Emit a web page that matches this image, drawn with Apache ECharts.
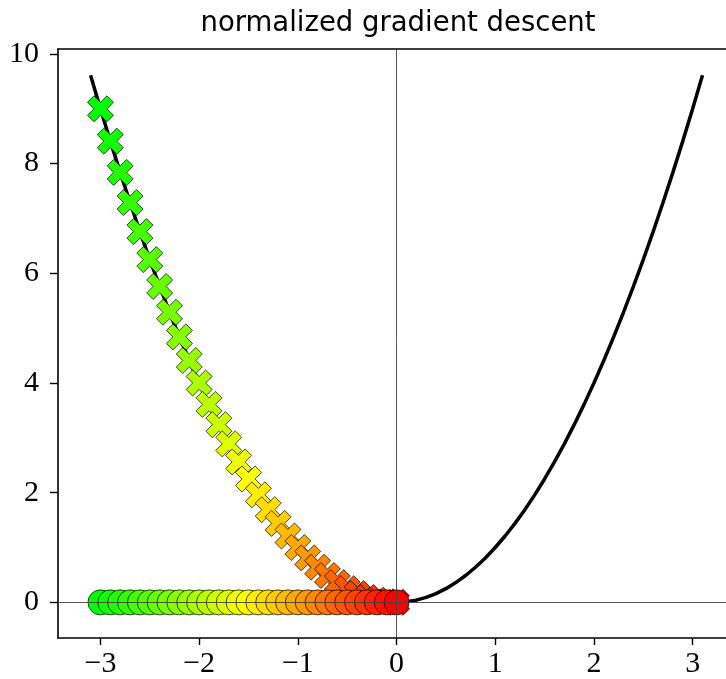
<!DOCTYPE html>
<html>
<head>
<meta charset="utf-8">
<script src="https://cdn.jsdelivr.net/npm/echarts@6/dist/echarts.min.js"></script>
<style>html,body{margin:0;padding:0;background:#fff;}#c{width:726px;height:679px;}</style>
</head>
<body>
<div id="c"></div>
<script>
// Curve y = x^2 sampled (values read/typed)
var curveX = [-3.1,-3.0,-2.9,-2.8,-2.7,-2.6,-2.5,-2.4,-2.3,-2.2,-2.1,-2.0,-1.9,-1.8,-1.7,-1.6,-1.5,-1.4,-1.3,-1.2,-1.1,-1.0,-0.9,-0.8,-0.7,-0.6,-0.5,-0.4,-0.3,-0.2,-0.1,0.0,0.1,0.2,0.3,0.4,0.5,0.6,0.7,0.8,0.9,1.0,1.1,1.2,1.3,1.4,1.5,1.6,1.7,1.8,1.9,2.0,2.1,2.2,2.3,2.4,2.5,2.6,2.7,2.8,2.9,3.0,3.1];
var curveY = [9.61,9.0,8.41,7.84,7.29,6.76,6.25,5.76,5.29,4.84,4.41,4.0,3.61,3.24,2.89,2.56,2.25,1.96,1.69,1.44,1.21,1.0,0.81,0.64,0.49,0.36,0.25,0.16,0.09,0.04,0.01,0.0,0.01,0.04,0.09,0.16,0.25,0.36,0.49,0.64,0.81,1.0,1.21,1.44,1.69,1.96,2.25,2.56,2.89,3.24,3.61,4.0,4.41,4.84,5.29,5.76,6.25,6.76,7.29,7.84,8.41,9.0,9.61];
// Descent steps
var stepX = [-3.0,-2.9,-2.8,-2.7,-2.6,-2.5,-2.4,-2.3,-2.2,-2.1,-2.0,-1.9,-1.8,-1.7,-1.6,-1.5,-1.4,-1.3,-1.2,-1.1,-1.0,-0.9,-0.8,-0.7,-0.6,-0.5,-0.4,-0.3,-0.2,-0.1,0.0];
var stepY = [9.0,8.41,7.84,7.29,6.76,6.25,5.76,5.29,4.84,4.41,4.0,3.61,3.24,2.89,2.56,2.25,1.96,1.69,1.44,1.21,1.0,0.81,0.64,0.49,0.36,0.25,0.16,0.09,0.04,0.01,0.0];
var baseY = [0,0,0,0,0,0,0,0,0,0,0,0,0,0,0,0,0,0,0,0,0,0,0,0,0,0,0,0,0,0,0];
var xTicks = [-3,-2,-1,0,1,2,3];
var yTicks = [0,2,4,6,8,10];

function zip(a,b){return a.map(function(v,i){return [v,b[i]];});}
var xPath = 'path://M26.4,97.1 L50,73.6 L73.6,97.1 L97.1,73.6 L73.6,50 L97.1,26.4 L73.6,2.9 L50,26.4 L26.4,2.9 L2.9,26.4 L26.4,50 L2.9,73.6 Z';
function fmt(v){ return (v<0?'\u2212':'') + Math.abs(v); }
var serif = 'Liberation Serif';

var chart = echarts.init(document.getElementById('c'), null, {renderer:'canvas'});
chart.setOption({
  animation:false,
  backgroundColor:'#fff',
  title:{text:'normalized gradient descent', left:393, top:5, textAlign:'center',
    textStyle:{fontFamily:'DejaVu Sans', fontWeight:'normal', fontSize:27.5, color:'#000'}},
  grid:{left:58, top:49, right:0, bottom:40},
  visualMap:{show:false, type:'continuous', seriesIndex:[1,2], dimension:0, min:-3, max:0,
    inRange:{color:['#00ff00','#ffff00','#ff0000']}},
  xAxis:[{type:'value', min:-3.43, max:3.338,
    axisLine:{show:true, onZero:false, lineStyle:{color:'#000', width:1.6}},
    axisTick:{show:true, length:7, lineStyle:{color:'#000', width:1.4},
      customValues: xTicks},
    axisLabel:{margin:11, fontFamily:serif, fontSize:30, color:'#000', formatter:fmt, customValues: xTicks},
    splitLine:{show:false}},
    {type:'value', position:'top', min:-3.43, max:3.338,
    axisLine:{show:true, onZero:false, lineStyle:{color:'#000', width:1.6}},
    axisTick:{show:false}, axisLabel:{show:false}, splitLine:{show:false}}],
  yAxis:{type:'value', min:-0.65, max:10.09,
    axisLine:{show:true, onZero:false, lineStyle:{color:'#000', width:1.6}},
    axisTick:{show:true, length:8, lineStyle:{color:'#000', width:1.4}, customValues: yTicks},
    axisLabel:{margin:19, fontFamily:serif, fontSize:30, color:'#000', formatter:fmt, customValues: yTicks},
    splitLine:{show:false}},
  series:[
    {type:'line', data: zip(curveX, curveY), showSymbol:false, symbol:'none', z:2,
     lineStyle:{color:'#000', width:3.5},
     markLine:{silent:true, symbol:'none', label:{show:false},
       lineStyle:{color:'#444', width:0.9, type:'solid'},
       data:[{yAxis:0},{xAxis:0}]}},
    {type:'scatter', data: zip(stepX, stepY), symbol:xPath, symbolSize:26, z:3,
     itemStyle:{borderColor:'rgba(0,0,0,0.7)', borderWidth:1, opacity:1}},
    {type:'scatter', data: zip(stepX, baseY), symbol:'circle', symbolSize:25, z:4,
     itemStyle:{borderColor:'rgba(0,0,0,0.7)', borderWidth:1, opacity:1}}
  ]
});
</script>
</body>
</html>
